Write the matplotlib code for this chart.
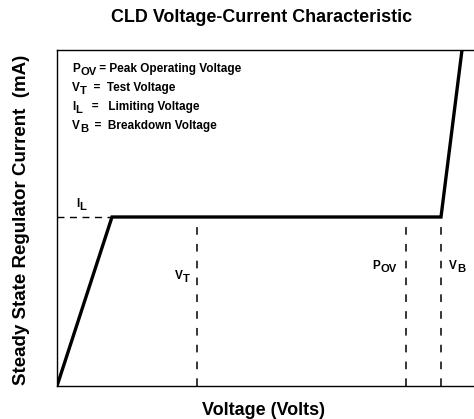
import matplotlib
matplotlib.use("Agg")
import matplotlib.pyplot as plt
from matplotlib.transforms import IdentityTransform

plt.rcParams['font.family'] = ['Liberation Sans', 'DejaVu Sans']
plt.rcParams['font.weight'] = 'bold'

# Characteristic curve (arbitrary units)
curve_v = [0, 55, 384, 405, 430]
curve_i = [0, 169, 169, 336, 540]
limit_i = 169
knee_v = 55
marker_names = ['VT', 'POV', 'VB']
marker_v = [140, 349, 384]
legend_lines = [('P', 'OV', ' = Peak Operating Voltage'),
                ('V', 'T', '  =  Test Voltage'),
                ('I', 'L', '   =   Limiting Voltage'),
                ('V', 'B', '  =  Breakdown Voltage')]

W, H = 474, 419
fig = plt.figure(figsize=(W/100, H/100), dpi=100)
ax = fig.add_axes([57/W, 1-386/H, (474-57)/W, (386-50)/H])
ax.set_xlim(0, 417)
ax.set_ylim(0, 336)
ax.spines['right'].set_visible(False)
for s in ['left', 'top', 'bottom']:
    ax.spines[s].set_linewidth(1.0)
ax.set_xticks([])
ax.set_yticks([])

ax.plot(curve_v, curve_i, color='black', lw=2.4, solid_joinstyle='miter')
ax.plot([0, knee_v], [limit_i, limit_i], color='black', lw=1.0, ls=(0, (5, 4)))
for v in marker_v:
    ax.plot([v, v], [0, limit_i], color='black', lw=1.1, ls=(0, (5, 6)))

renderer = fig.canvas.get_renderer()
FS = 8.5
DROP = 3.2


def sub_text(xpx, ypx, main, sub, rest='', fs=FS):
    """Draw main letter with a same-size lowered subscript; xpx/ypx are
    left/baseline in top-origin pixels."""
    y = H - ypx
    t1 = fig.text(xpx, y, main, transform=IdentityTransform(), fontsize=fs,
                  va='baseline', ha='left', fontweight='bold')
    w1 = t1.get_window_extent(renderer).width
    t2 = fig.text(xpx + w1 + 0.3, y - DROP, sub, transform=IdentityTransform(),
                  fontsize=fs * 0.95, va='baseline', ha='left', fontweight='bold')
    w2 = t2.get_window_extent(renderer).width
    if rest:
        fig.text(xpx + w1 + w2 + 0.3, y, rest, transform=IdentityTransform(),
                 fontsize=fs, va='baseline', ha='left', fontweight='bold')


for k, (m, s, r) in enumerate(legend_lines):
    sub_text(72, [72, 91, 110, 129][k], m, s, r)

sub_text(76, 207, 'I', 'L')
sub_text(175, 279, 'V', 'T')
sub_text(372, 269, 'P', 'OV')
sub_text(449, 269, 'V', 'B')

fig.text(262/W, 1-18/H, 'CLD Voltage-Current Characteristic', fontsize=12.9,
         ha='center', va='center', fontweight='bold')
fig.text(264/W, 1-410/H, 'Voltage (Volts)', fontsize=13,
         ha='center', va='center', fontweight='bold')
fig.text(22/W, 1-220/H, 'Steady State Regulator Current  (mA)', fontsize=13.5,
         ha='center', va='center', rotation=90, fontweight='bold')

fig.savefig('out.png', dpi=100)
